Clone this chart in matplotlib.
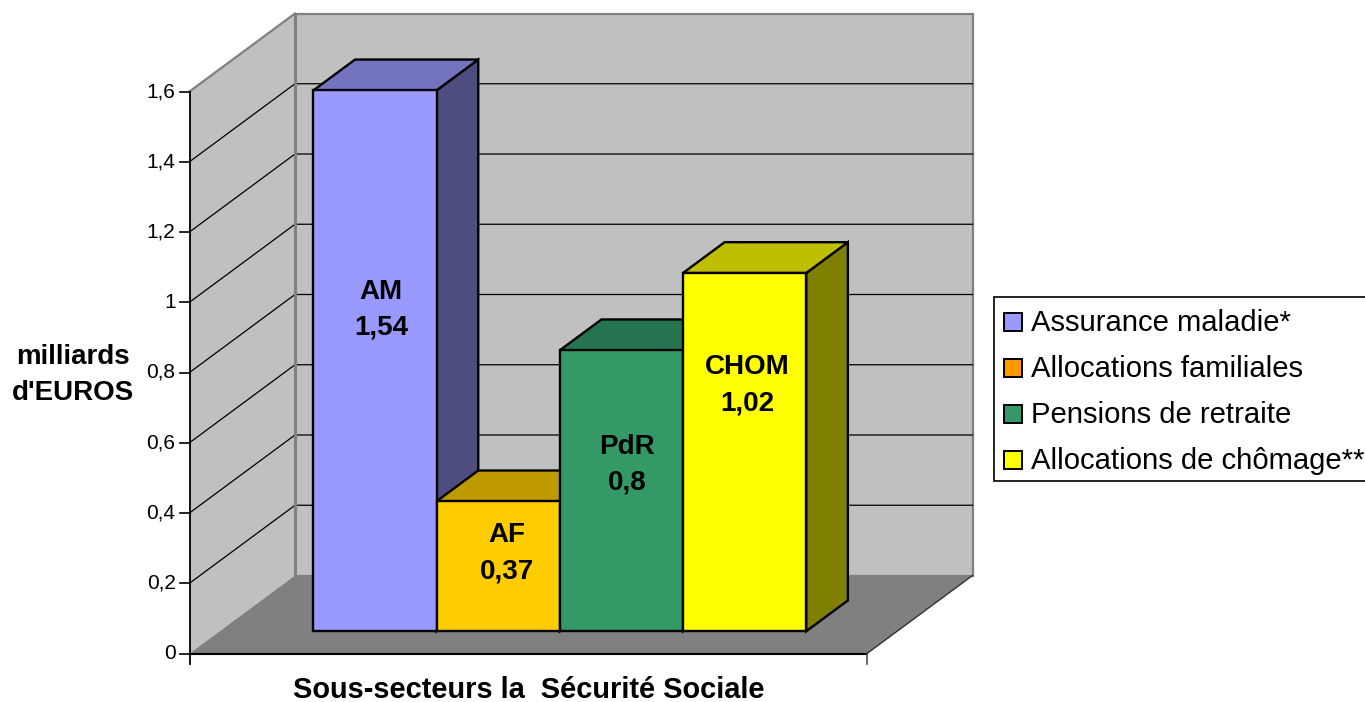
import matplotlib
matplotlib.use("Agg")
import matplotlib.pyplot as plt
from matplotlib.patches import Polygon, Rectangle

plt.rcParams['font.family'] = ['Liberation Sans', 'DejaVu Sans']

# data
codes = ["AM", "AF", "PdR", "CHOM"]
names = ["Assurance maladie*", "Allocations familiales", "Pensions de retraite", "Allocations de chômage**"]
values = [1.54, 0.37, 0.8, 1.02]
value_labels = ["1,54", "0,37", "0,8", "1,02"]
ticks = [0, 0.2, 0.4, 0.6, 0.8, 1.0, 1.2, 1.4, 1.6]
tick_labels = ["0", "0,2", "0,4", "0,6", "0,8", "1", "1,2", "1,4", "1,6"]

front_colors = ["#9999FF", "#FFCC00", "#339966", "#FFFF00"]
top_colors = ["#7373BF", "#BF9900", "#267350", "#BFBF00"]
side_colors = ["#4D4D80", "#806600", "#1A4D33", "#808000"]
legend_colors = ["#9999FF", "#FF9900", "#339966", "#FFFF00"]

# label nudges from the bar centre, pixels
label_dx = [6, 9, 6, 3]
label_dy = [51, 13, 26, 67]

W, H = 1365, 702
# front plane of the chart in pixels
left_px, right_px, bottom_px, top_px = 189.5, 867.0, 653.5, 91.5
bar_w_px = 123.2
depth_x_px, depth_y_px = 105.5, 78.0

fig = plt.figure(figsize=(W / 100, H / 100), dpi=100)
ax = fig.add_axes([left_px / W, 1 - bottom_px / H, (right_px - left_px) / W, (bottom_px - top_px) / H])
# x is in bar widths, y in milliards
plane_w = (right_px - left_px) / bar_w_px
ax.set_xlim(0, plane_w)
ax.set_ylim(0, 1.6)
ax.axis("off")

px_v = 1.6 / (bottom_px - top_px)  # one pixel in value units
dx = depth_x_px / bar_w_px
dy = depth_y_px * px_v
gap = (plane_w - len(values)) / 2 + 0.012
z_front, z_back = 0.285, 0.68


def pt(x, v, z=0.0):
    # project a point at depth z (0 front, 1 back)
    return (x + z * dx, v + z * dy)


def poly(points, face, edge, lw, zorder):
    ax.add_patch(Polygon(points, closed=True, facecolor=face, edgecolor=edge, linewidth=lw,
                         joinstyle="miter", clip_on=False, zorder=zorder))


wall_edge = "#808080"
# back wall, side wall, floor
poly([pt(0, 0, 1), pt(plane_w, 0, 1), pt(plane_w, 1.6, 1), pt(0, 1.6, 1)], "#C0C0C0", wall_edge, 1.6, 1)
poly([pt(0, 0, 0), pt(0, 0, 1), pt(0, 1.6, 1), pt(0, 1.6, 0)], "#C0C0C0", "none", 0, 1)
ax.plot(*zip(pt(0, 1.6, 0), pt(0, 1.6, 1)), color=wall_edge, lw=1.6, zorder=2, clip_on=False)
poly([pt(0, 0, 0), pt(plane_w, 0, 0), pt(plane_w, 0, 1), pt(0, 0, 1)], "#808080", "none", 0, 2)

# gridlines
for t in ticks[1:-1]:
    ax.plot(*zip(pt(0, t, 0), pt(0, t, 1), pt(plane_w, t, 1)), color="black", lw=0.9, zorder=2,
            clip_on=False, solid_joinstyle="miter")
ax.plot(*zip(pt(0, 0, 1), pt(0, 1.6, 1)), color=wall_edge, lw=2.2, zorder=3, clip_on=False)
ax.plot(*zip(pt(plane_w, 0, 0), pt(plane_w, 0, 1)), color="#303030", lw=1, zorder=3, clip_on=False)

# axis lines and tick marks
tick_len = 10 / bar_w_px
ax.plot([0, 0], [-10 * px_v, 1.6], color="black", lw=1.3, zorder=4, clip_on=False)
ax.plot([0, plane_w], [0, 0], color="black", lw=1.5, zorder=4, clip_on=False)
ax.plot([plane_w, plane_w], [0, -10 * px_v], color="#505050", lw=1.2, zorder=4, clip_on=False)
for t, lab in zip(ticks, tick_labels):
    ax.plot([-tick_len, 0], [t, t], color="black", lw=1.2, zorder=4, clip_on=False)
    ax.text(-14 / bar_w_px, t, lab, ha="right", va="center", fontsize=15, color="black", clip_on=False)

# bars, painted left to right
for i, v in enumerate(values):
    x0 = gap + i
    x1 = x0 + 1
    poly([pt(x1, 0, z_front), pt(x1, 0, z_back), pt(x1, v, z_back), pt(x1, v, z_front)],
         side_colors[i], "black", 1.7, 5 + i)
    poly([pt(x0, v, z_front), pt(x1, v, z_front), pt(x1, v, z_back), pt(x0, v, z_back)],
         top_colors[i], "black", 1.7, 5 + i)
    poly([pt(x0, 0, z_front), pt(x1, 0, z_front), pt(x1, v, z_front), pt(x0, v, z_front)],
         front_colors[i], "black", 1.7, 5 + i)
    cx, cy = pt(x0 + 0.5, v / 2, z_front)
    ax.text(cx + label_dx[i] / bar_w_px, cy + label_dy[i] * px_v, codes[i] + "\n" + value_labels[i],
            ha="center", va="center", fontsize=20, fontweight="bold", linespacing=1.49, zorder=20,
            clip_on=False)

# axis titles, placed in figure pixels
fig.text(73 / W, 1 - 375 / H, "milliards\nd'EUROS", ha="center", va="center", fontsize=20,
         fontweight="bold", linespacing=1.53)
fig.text(528.5 / W, 1 - 698.5 / H, "Sous-secteurs la  Sécurité Sociale", ha="center", va="baseline",
         fontsize=20.9, fontweight="bold")

# legend box
fig.add_artist(Rectangle((993.5 / W, 1 - 480.5 / H), 380 / W, 184 / H, transform=fig.transFigure,
                         facecolor="white", edgecolor="black", linewidth=1.2))
for i, name in enumerate(names):
    y = 321 + i * 46
    fig.add_artist(Rectangle((1003.5 / W, 1 - (y + 10) / H), 18 / W, 18 / H, transform=fig.transFigure,
                             facecolor=legend_colors[i], edgecolor="black", linewidth=1.4))
    fig.text(1031 / W, 1 - (y + 2) / H, name, ha="left", va="center", fontsize=21.1)

fig.savefig("out.png", dpi=100)
